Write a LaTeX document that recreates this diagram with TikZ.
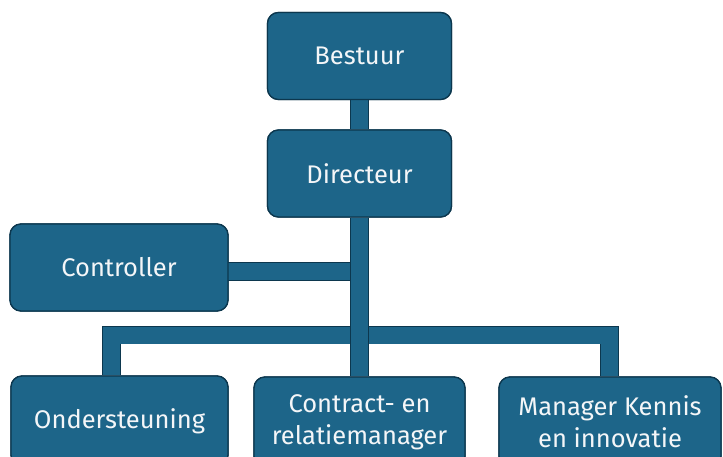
\documentclass[tikz,border=0pt]{standalone}
\usepackage{fontspec}
\setmainfont{Fira Sans}
\definecolor{boxblue}{RGB}{29,101,137}
\definecolor{edgeblue}{RGB}{12,55,78}
\definecolor{txt}{RGB}{244,246,248}
\begin{document}
\begin{tikzpicture}[x=1pt,y=-1pt,
  orgbox/.style={draw=edgeblue, line width=1.3pt, fill=boxblue, rounded corners=11pt,
    text=txt, font=\fontsize{25.5}{32}\selectfont, align=center, inner sep=0pt, minimum height=87pt},
  bar/.style={draw=edgeblue, line width=0.9pt, double=boxblue, double distance=17pt}]
\useasboundingbox (0,0) rectangle (723,457);
\clip (0,0) rectangle (723,457);
% nodes
\node[orgbox, minimum width=184pt] (bestuur) at (359.5,56) {Bestuur};
\node[orgbox, minimum width=184pt] (directeur) at (359.5,173.5) {Directeur};
\node[orgbox, minimum width=218pt] (controller) at (119,267.5) {Controller};
\node[orgbox, minimum width=217pt, minimum height=90pt] (onder) at (119.5,421) {Ondersteuning};
\node[orgbox, minimum width=211pt, minimum height=90pt] (contract) at (359.5,422) {Contract- en\\relatiemanager};
\node[orgbox, minimum width=222pt, minimum height=90pt] (manager) at (610,422) {Manager Kennis\\en innovatie};
\coordinate (busL) at (111.5,335);
\coordinate (busR) at (609.5,335);
\coordinate (ctrl) at (228,271.5);
% connectors
\draw[bar] (bestuur.south) -- (directeur.north);
\draw[bar] (ctrl) -- (directeur.south |- ctrl);
\draw[bar] (busL |- onder.north) -- (busL) -- (busR) -- (busR |- manager.north);
\draw[bar] (directeur.south) -- (contract.north);
% boxes redrawn on top of the connectors
\node[orgbox, minimum width=184pt] at (bestuur) {Bestuur};
\node[orgbox, minimum width=184pt] at (directeur) {Directeur};
\node[orgbox, minimum width=218pt] at (controller) {Controller};
\node[orgbox, minimum width=217pt, minimum height=90pt] at (onder) {Ondersteuning};
\node[orgbox, minimum width=211pt, minimum height=90pt] at (contract) {Contract- en\\relatiemanager};
\node[orgbox, minimum width=222pt, minimum height=90pt] at (manager) {Manager Kennis\\en innovatie};
\end{tikzpicture}
\end{document}
